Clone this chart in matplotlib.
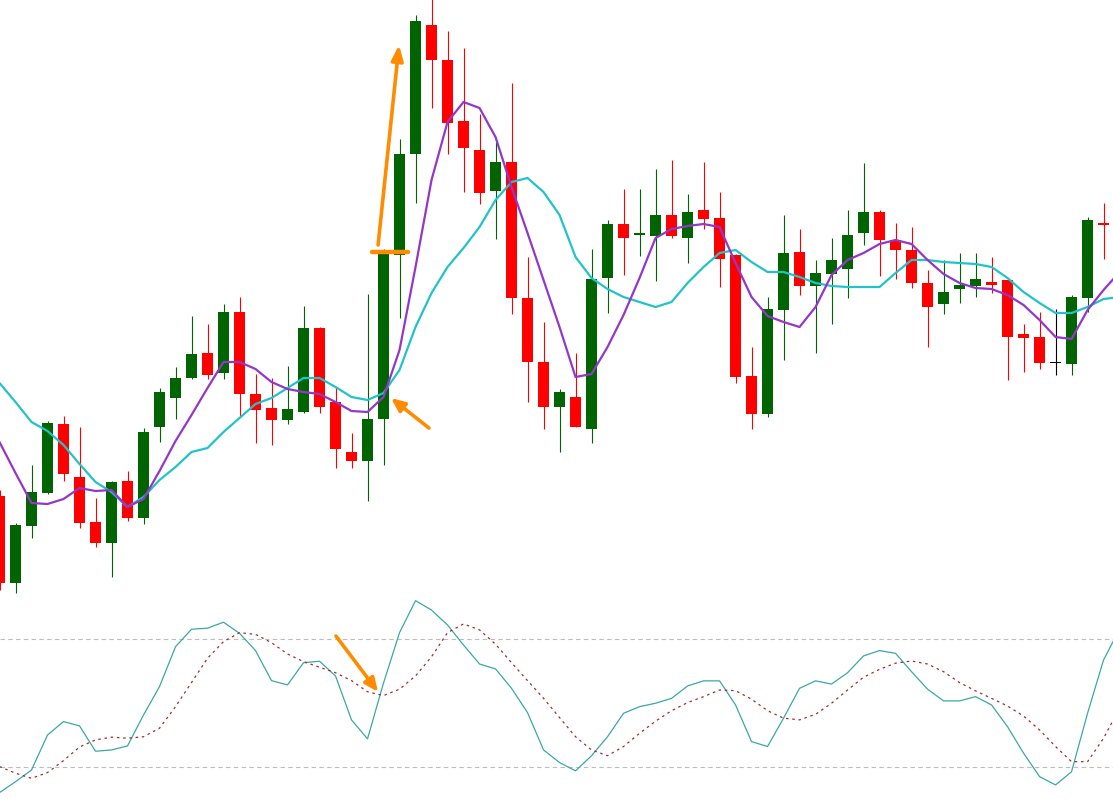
import numpy as np
import matplotlib
matplotlib.use("Agg")
import matplotlib.pyplot as plt

# bougies (unites de prix arbitraires)
opens = [30.4, 21.7, 27.4, 30.7, 37.6, 32.3, 27.8, 25.7, 31.9, 28.2,
         37.3, 40.2, 42.2, 44.7, 42.7, 48.8, 40.6, 39.2, 38.0, 38.8,
         47.2, 39.8, 34.8, 33.9, 38.1, 54.5, 64.6, 77.5, 74.0, 67.9,
         65.0, 60.9, 63.8, 50.2, 43.8, 39.3, 40.3, 37.1, 52.2, 57.6,
         56.5, 56.4, 58.5, 56.2, 59.0, 58.2, 54.5, 42.4, 38.6, 49.0,
         54.8, 51.4, 52.6, 53.1, 56.7, 58.8, 56.0, 55.0, 51.7, 49.6,
         51.1, 51.4, 51.8, 52.0, 46.6, 46.3, 43.7, 43.6, 50.2, 57.7]
highs = [31.0, 27.7, 33.5, 37.9, 38.4, 37.3, 30.2, 31.9, 32.9, 37.2,
         41.2, 43.3, 48.4, 47.6, 49.6, 50.3, 42.6, 42.2, 43.4, 49.4,
         47.3, 41.3, 36.7, 50.6, 55.1, 66.1, 78.5, 80.5, 76.9, 75.2,
         68.6, 65.8, 71.7, 54.3, 47.8, 41.1, 44.7, 55.1, 58.0, 61.1,
         61.1, 63.1, 64.0, 60.6, 63.8, 60.8, 54.6, 45.3, 50.3, 58.5,
         57.1, 54.0, 56.2, 59.0, 63.7, 59.0, 57.7, 57.3, 53.0, 54.0,
         54.7, 54.7, 54.3, 52.1, 47.6, 48.8, 49.1, 50.5, 58.3, 59.7]
lows = [21.0, 20.7, 26.2, 30.6, 31.9, 27.2, 25.3, 22.3, 27.9, 27.6,
        35.8, 38.1, 42.1, 42.1, 42.1, 38.3, 35.7, 35.5, 37.6, 38.7,
        38.7, 33.2, 33.2, 29.9, 33.5, 48.2, 59.7, 69.2, 64.6, 60.8,
        59.6, 56.1, 48.6, 39.8, 37.1, 34.8, 37.3, 35.7, 48.7, 52.5,
        54.4, 51.9, 56.2, 53.7, 57.1, 51.3, 41.7, 37.1, 38.3, 44.0,
        50.5, 44.7, 47.6, 50.2, 55.5, 52.4, 52.1, 51.2, 45.3, 48.6,
        49.7, 50.3, 50.7, 42.0, 42.8, 43.1, 42.5, 42.5, 48.8, 54.1]
closes = [21.7, 27.5, 30.8, 37.7, 32.6, 27.7, 25.7, 31.8, 28.2, 36.8,
          40.8, 42.2, 44.6, 42.5, 48.8, 40.6, 39.0, 38.0, 39.1, 47.2,
          39.3, 35.1, 33.9, 38.1, 54.7, 64.6, 77.9, 74.0, 67.7, 65.2,
          60.7, 63.8, 50.2, 43.8, 39.3, 40.8, 37.3, 52.1, 57.6, 56.2,
          56.7, 58.5, 56.4, 58.8, 58.1, 54.1, 42.3, 38.6, 49.1, 54.7,
          51.4, 52.7, 54.0, 56.5, 58.8, 56.0, 55.0, 51.7, 49.3, 50.8,
          51.5, 52.1, 51.5, 46.3, 46.2, 43.7, 43.7, 50.3, 58.0, 57.5]

# moyennes mobiles (une valeur de plus, la courbe sort a droite)
ma_rapide = [35.8, 32.7, 29.7, 29.6, 30.1, 31.2, 30.9, 31.0, 29.3, 30.1,
             32.9, 35.9, 38.5, 41.2, 43.8, 43.8, 43.1, 41.8, 41.1, 40.8,
             40.6, 39.8, 38.9, 38.8, 40.3, 45.0, 53.3, 62.0, 67.8, 69.8,
             69.2, 66.3, 61.3, 56.7, 52.0, 47.3, 42.3, 42.6, 45.3, 48.5,
             52.2, 56.2, 57.1, 57.4, 57.6, 57.3, 53.7, 50.3, 48.4, 47.8,
             47.3, 49.3, 52.5, 54.0, 54.7, 55.6, 56.0, 55.6, 54.0, 52.6,
             51.7, 51.2, 51.1, 50.5, 49.5, 48.0, 46.3, 46.1, 49.0, 51.0,
             52.8]
ma_lente = [41.7, 39.8, 37.8, 36.9, 35.5, 33.6, 31.8, 30.8, 29.3, 30.3,
            32.0, 33.3, 34.8, 35.2, 36.8, 38.2, 39.6, 40.2, 41.2, 42.2,
            42.2, 41.3, 40.3, 40.0, 40.7, 43.0, 47.3, 50.7, 53.3, 55.2,
            57.3, 60.0, 61.8, 62.2, 60.8, 58.5, 54.3, 52.2, 51.1, 50.3,
            49.8, 49.3, 49.8, 51.7, 53.3, 54.7, 55.0, 53.8, 52.8, 52.8,
            52.3, 51.7, 51.4, 51.3, 51.3, 51.3, 52.7, 54.0, 54.0, 53.8,
            53.7, 53.6, 53.3, 52.2, 50.8, 49.7, 48.7, 48.7, 49.3, 50.1,
            50.3]

# stochastique %K et %D
stoch_k = [8.1, 13.2, 18.7, 35.1, 41.4, 39.4, 27.5, 28.1, 30.0, 44.5,
           57.8, 76.5, 84.7, 85.2, 88.0, 82.8, 74.7, 60.6, 58.6, 69.0,
           69.7, 62.8, 42.2, 33.3, 59.5, 83.1, 98.1, 93.7, 86.7, 77.3,
           68.4, 66.1, 57.0, 45.6, 28.1, 22.2, 18.3, 25.4, 34.3, 45.3,
           48.4, 50.0, 52.3, 58.1, 60.5, 60.5, 49.2, 32.0, 29.7, 43.0,
           57.0, 60.5, 59.0, 64.3, 72.2, 74.7, 73.4, 64.8, 56.6, 51.1,
           51.1, 53.1, 49.2, 39.0, 26.6, 15.6, 11.7, 17.9, 45.3, 70.3,
           84.8]
stoch_d = [20.3, 17.2, 14.8, 17.5, 23.1, 29.5, 32.8, 34.1, 33.6, 34.3,
           38.3, 48.4, 59.7, 71.1, 78.9, 83.1, 82.3, 78.4, 73.1, 69.5,
           66.9, 64.3, 60.6, 55.4, 53.6, 56.6, 62.8, 71.8, 83.1, 87.2,
           84.4, 77.7, 69.0, 60.6, 52.3, 43.3, 34.3, 28.1, 25.4, 29.7,
           35.9, 41.6, 46.5, 50.3, 53.1, 56.2, 55.9, 51.9, 46.5, 43.0,
           42.2, 44.8, 50.0, 56.2, 62.2, 65.9, 68.8, 69.8, 68.4, 64.8,
           59.7, 55.8, 52.3, 48.7, 44.0, 37.5, 29.7, 22.6, 22.6, 33.6,
           47.7]
niveaux = [20, 80]

VERT = "#006400"
ROUGE = "#FF0000"
ORANGE = "#FF8C00"

fig = plt.figure(figsize=(11.13, 7.99), dpi=100)
ax = fig.add_axes([0, 0.2533, 1, 0.7467])
ax_osc = fig.add_axes([0, 0, 1, 0.2533])
for a in (ax, ax_osc):
    a.set_axis_off()
    a.set_xlim(0.031, 69.59)

x = np.arange(len(opens))
o = np.array(opens)
c = np.array(closes)
couleurs = [VERT if cl > op else (ROUGE if cl < op else "black") for op, cl in zip(o, c)]

# meches puis corps
ax.vlines(x, lows, highs, colors=couleurs, linewidth=0.8, zorder=2)
hauteur = np.maximum(np.abs(c - o), 0.12)
ax.bar(x, hauteur, bottom=np.minimum(o, c), width=0.69, color=couleurs,
       linewidth=0, zorder=3)

xm = np.arange(len(ma_rapide))
ax.plot(xm, ma_lente, color="#22C3C8", linewidth=1.6, zorder=4)
ax.plot(xm, ma_rapide, color="#9437C8", linewidth=1.6, zorder=5)
ax.set_ylim(20.34, 80)

# annotations oranges
ax.plot([23.28, 25.53], [54.83, 54.83], color=ORANGE, linewidth=3.2,
        solid_capstyle="round", zorder=6)
ax.annotate("", xy=(24.97, 75.5), xytext=(23.66, 55.5),
            arrowprops=dict(arrowstyle="-|>,head_length=0.9,head_width=0.35",
                            color=ORANGE, linewidth=2.6, shrinkA=0, shrinkB=0),
            zorder=7)
ax.annotate("", xy=(24.47, 40.2), xytext=(26.84, 37.2),
            arrowprops=dict(arrowstyle="-|>,head_length=0.8,head_width=0.35",
                            color=ORANGE, linewidth=2.6, shrinkA=0, shrinkB=0),
            zorder=7)

# oscillateur
for niv in niveaux:
    ax_osc.axhline(niv, color="#BDBDBD", linewidth=0.8, linestyle=(0, (4, 3)))
xs = np.arange(len(stoch_k))
ax_osc.plot(xs, stoch_k, color="#3AA8A8", linewidth=0.9)
ax_osc.plot(xs, stoch_d, color="#A52A2A", linewidth=0.9, linestyle=(0, (2, 3)))
ax_osc.annotate("", xy=(23.66, 55.3), xytext=(21.03, 81.5),
                arrowprops=dict(arrowstyle="-|>,head_length=0.8,head_width=0.35",
                                color=ORANGE, linewidth=2.6, shrinkA=0, shrinkB=0))
ax_osc.set_ylim(5.1, 100)

fig.savefig("out.png", dpi=100, facecolor="white")
